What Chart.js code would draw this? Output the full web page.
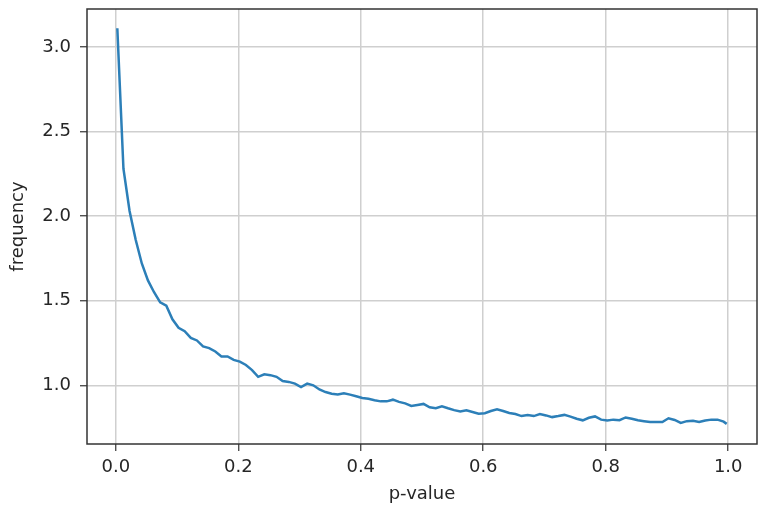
<!DOCTYPE html>
<html>
<head>
<meta charset="utf-8">
<script src="https://cdn.jsdelivr.net/npm/chart.js@4.4.0/dist/chart.umd.min.js"></script>
<style>
  html, body { margin: 0; padding: 0; background: #fff; }
  #wrap { width: 774px; height: 514px; }
</style>
</head>
<body>
<div id="wrap"><canvas id="pvalChart" width="774" height="514"></canvas></div>
<script>
// centros dos bins (p-value)
const pValues = [
  0.0025, 0.0125, 0.0225, 0.0325, 0.0425, 0.0525, 0.0625, 0.0725, 0.0825, 0.0925,
  0.1025, 0.1125, 0.1225, 0.1325, 0.1425, 0.1525, 0.1625, 0.1725, 0.1825, 0.1925,
  0.2025, 0.2125, 0.2225, 0.2325, 0.2425, 0.2525, 0.2625, 0.2725, 0.2825, 0.2925,
  0.3025, 0.3125, 0.3225, 0.3325, 0.3425, 0.3525, 0.3625, 0.3725, 0.3825, 0.3925,
  0.4025, 0.4125, 0.4225, 0.4325, 0.4425, 0.4525, 0.4625, 0.4725, 0.4825, 0.4925,
  0.5025, 0.5125, 0.5225, 0.5325, 0.5425, 0.5525, 0.5625, 0.5725, 0.5825, 0.5925,
  0.6025, 0.6125, 0.6225, 0.6325, 0.6425, 0.6525, 0.6625, 0.6725, 0.6825, 0.6925,
  0.7025, 0.7125, 0.7225, 0.7325, 0.7425, 0.7525, 0.7625, 0.7725, 0.7825, 0.7925,
  0.8025, 0.8125, 0.8225, 0.8325, 0.8425, 0.8525, 0.8625, 0.8725, 0.8825, 0.8925,
  0.9025, 0.9125, 0.9225, 0.9325, 0.9425, 0.9525, 0.9625, 0.9725, 0.9825, 0.9925,
  0.9975
];

// frequência
const frequency = [
  3.11, 2.28, 2.03, 1.86, 1.72, 1.62, 1.55, 1.49, 1.47, 1.39,
  1.34, 1.32, 1.28, 1.265, 1.23, 1.22, 1.20, 1.17, 1.17, 1.15,
  1.14, 1.12, 1.09, 1.05, 1.065, 1.06, 1.05, 1.025, 1.02, 1.01,
  0.99, 1.01, 1.00, 0.975, 0.96, 0.95, 0.945, 0.953, 0.945, 0.935,
  0.925, 0.92, 0.912, 0.905, 0.905, 0.915, 0.902, 0.893, 0.878, 0.884,
  0.89, 0.87, 0.865, 0.876, 0.864, 0.853, 0.845, 0.852, 0.842, 0.832,
  0.835, 0.848, 0.858, 0.848, 0.836, 0.83, 0.818, 0.825, 0.818, 0.83,
  0.822, 0.812, 0.818, 0.825, 0.815, 0.802, 0.793, 0.808, 0.816, 0.797,
  0.792, 0.797, 0.794, 0.81, 0.802, 0.793, 0.788, 0.783, 0.783, 0.783,
  0.805, 0.795, 0.778, 0.788, 0.79, 0.783, 0.792, 0.797, 0.797, 0.785,
  0.772
];

const xTicks = [0.0, 0.2, 0.4, 0.6, 0.8, 1.0];
const yTicks = [1.0, 1.5, 2.0, 2.5, 3.0];

const FONT = "'DejaVu Sans', sans-serif";
const TEXT = '#262626';
const GRID = '#cfcfcf';
const SPINE = '#333333';

// moldura completa (topo e direita também)
const framePlugin = {
  id: 'frame',
  afterDatasetsDraw(chart) {
    const { ctx, chartArea: a } = chart;
    ctx.save();
    ctx.strokeStyle = SPINE;
    ctx.lineWidth = 1.5;
    ctx.strokeRect(a.left, a.top, a.right - a.left, a.bottom - a.top);
    ctx.restore();
  }
};

const ctx = document.getElementById('pvalChart').getContext('2d');
new Chart(ctx, {
  type: 'line',
  data: {
    datasets: [{
      data: pValues.map((p, i) => ({ x: p, y: frequency[i] })),
      borderColor: '#2c7fb8',
      borderWidth: 2.5,
      pointRadius: 0,
      tension: 0,
      fill: false
    }]
  },
  options: {
    responsive: false,
    animation: false,
    layout: { padding: { top: 9, right: 17, left: 0, bottom: 0 } },
    plugins: { legend: { display: false }, tooltip: { enabled: false } },
    scales: {
      x: {
        type: 'linear',
        min: -0.047,
        max: 1.047,
        afterBuildTicks: s => { s.ticks = xTicks.map(v => ({ value: v })); },
        afterFit: s => { s.height = 70; s.paddingLeft = 0; s.paddingRight = 0; },
        ticks: {
          font: { family: FONT, size: 18 },
          color: TEXT,
          padding: 6,
          maxRotation: 0,
          callback: v => v.toFixed(1)
        },
        grid: { color: GRID, lineWidth: 1.5, tickColor: SPINE, tickLength: 7, tickWidth: 1.2 },
        border: { display: false },
        title: {
          display: true,
          text: 'p-value',
          font: { family: FONT, size: 18 },
          color: TEXT,
          padding: { top: 0, bottom: 9 }
        }
      },
      y: {
        min: 0.653,
        max: 3.224,
        afterBuildTicks: s => { s.ticks = yTicks.map(v => ({ value: v })); },
        afterFit: s => { s.width = 87; s.paddingTop = 0; s.paddingBottom = 0; },
        ticks: {
          font: { family: FONT, size: 18 },
          color: TEXT,
          padding: 9,
          callback: v => v.toFixed(1)
        },
        grid: { color: GRID, lineWidth: 1.5, tickColor: SPINE, tickLength: 7, tickWidth: 1.2 },
        border: { display: false },
        title: {
          display: true,
          text: 'frequency',
          font: { family: FONT, size: 18 },
          color: TEXT,
          padding: { top: 8, bottom: 0 }
        }
      }
    }
  },
  plugins: [framePlugin]
});
</script>
</body>
</html>
